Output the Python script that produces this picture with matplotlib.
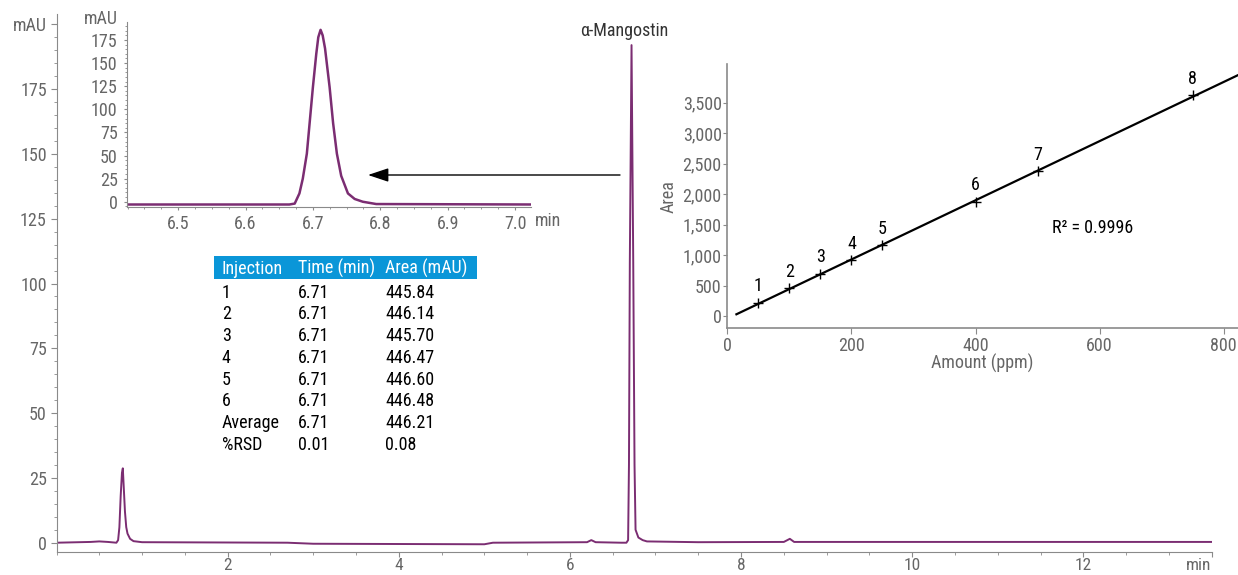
import numpy as np
import matplotlib
matplotlib.use("Agg")
import matplotlib.pyplot as plt
from matplotlib.patches import Rectangle
from matplotlib.ticker import MultipleLocator, FuncFormatter

plt.rcParams['font.family'] = ['Roboto Condensed', 'Fira Sans Condensed', 'Archivo Narrow',
                               'PT Sans Narrow', 'DejaVu Sans']

# full chromatogram (min, mAU)
main_t = [0.0, 0.4, 0.5, 0.6, 0.70, 0.72, 0.735, 0.75, 0.765, 0.775, 0.785, 0.80, 0.815, 0.83, 0.86, 0.9, 1.0,
          2.7, 3.0, 4.0, 5.0, 5.1, 6.2, 6.25, 6.3, 6.6, 6.66, 6.68, 6.69, 6.70, 6.72, 6.74, 6.755,
          6.767, 6.80, 6.85, 6.9, 7.5, 8.5, 8.57, 8.62, 10.0, 12.0, 13.5]
main_v = [0.0, 0.3, 0.5, 0.3, 0.0, 1.0, 6.0, 18.0, 27.0, 28.7, 22.0, 12.0, 6.0, 3.5, 1.5, 0.6, 0.2,
          0.0, -0.4, -0.5, -0.6, 0.0, 0.2, 1.0, 0.2, 0.0, 0.0, 1.0, 30.0, 108.0, 192.0, 108.0, 30.0,
          5.0, 2.0, 1.0, 0.5, 0.2, 0.3, 1.5, 0.3, 0.3, 0.3, 0.3]

# zoomed peak of alpha-mangostin
zoom_t = [6.42, 6.60, 6.665, 6.673, 6.680, 6.685, 6.691, 6.700, 6.705, 6.708, 6.7114, 6.7145, 6.718,
          6.7248, 6.730, 6.7356, 6.742, 6.752, 6.762, 6.774, 6.794, 7.03]
zoom_v = [-3.0, -3.0, -3.0, -2.0, 9.0, 25.0, 52.0, 124.0, 160.0, 178.0, 186.0, 180.0, 166.0,
          124.0, 85.0, 52.0, 28.0, 9.0, 3.0, 0.0, -2.5, -3.0]

# repeatability table
injections = ["1", "2", "3", "4", "5", "6", "Average", "%RSD"]
ret_times = ["6.71", "6.71", "6.71", "6.71", "6.71", "6.71", "6.71", "0.01"]
areas = ["445.84", "446.14", "445.70", "446.47", "446.60", "446.48", "446.21", "0.08"]

# calibration
amount = [50, 100, 150, 200, 250, 400, 500, 750]
area = [218, 452, 691, 914, 1159, 1878, 2373, 3620]
levels = ["1", "2", "3", "4", "5", "6", "7", "8"]

W, H = 1238, 575
def box(l, t, r, b):
    return [l / W, 1 - b / H, (r - l) / W, (b - t) / H]

grey = '#666666'
spine_c = '#8a8a8a'
trace_c = '#7b2d72'
fs = 13

fig = plt.figure(figsize=(12.38, 5.75), dpi=100)

# main chromatogram
ax = fig.add_axes(box(56.5, 14, 1211.7, 552.3))
ax.plot(main_t, main_v, color=trace_c, lw=1.4)
ax.set_xlim(0, 13.5)
ax.set_ylim(-3.7, 204)
ax.set_xticks([2, 4, 6, 8, 10, 12, 13.5])
ax.set_xticklabels(["2", "4", "6", "8", "10", "12", "min"])
ax.get_xticklabels()[-1].set_horizontalalignment('right')
ax.xaxis.set_minor_locator(MultipleLocator(0.5))
ax.set_yticks([0, 25, 50, 75, 100, 125, 150, 175, 200])
ax.set_yticklabels(["0", "25", "50", "75", "100", "125", "150", "175", "mAU"])
ax.yaxis.set_minor_locator(MultipleLocator(5))
for s in ['top', 'right']:
    ax.spines[s].set_visible(False)
for s in ['left', 'bottom']:
    ax.spines[s].set_color(spine_c)
ax.tick_params(which='major', length=4.5, color=spine_c, labelcolor=grey, labelsize=fs, pad=2.5)
ax.tick_params(axis='x', which='major', length=3.5, labelsize=12.5, pad=0.8)
ax.tick_params(which='minor', length=2.5, color=spine_c)
ax.text(6.64, 197.5, "α-Mangostin", ha='center', va='center', fontsize=fs, color='#333333')
ax.annotate("", xy=(368 / W, 1 - 175 / H), xytext=(620 / W, 1 - 175 / H),
            xycoords='figure fraction', textcoords='figure fraction',
            arrowprops=dict(arrowstyle='-|>,head_length=0.9,head_width=0.3', color='black',
                            lw=1.0, mutation_scale=14, shrinkA=0, shrinkB=0))

# zoomed inset
ai = fig.add_axes(box(126.7, 21.7, 530.7, 207))
ai.set_facecolor('none')
ai.plot(zoom_t, zoom_v, color=trace_c, lw=1.8)
ai.set_xlim(6.4236, 7.0233)
ai.set_ylim(-5.7, 194.8)
ai.set_xticks([6.5, 6.6, 6.7, 6.8, 6.9, 7.0])
ai.set_xticklabels(["6.5", "6.6", "6.7", "6.8", "6.9", "7.0"])
ai.xaxis.set_minor_locator(MultipleLocator(0.025))
ai.set_yticks([0, 25, 50, 75, 100, 125, 150, 175])
ai.yaxis.set_minor_locator(MultipleLocator(5))
for s in ['top', 'right']:
    ai.spines[s].set_visible(False)
for s in ['left', 'bottom']:
    ai.spines[s].set_color(spine_c)
ai.tick_params(which='major', length=2, color=spine_c, labelcolor=grey, labelsize=fs)
ai.tick_params(axis='y', which='major', pad=4.5)
ai.tick_params(axis='x', which='major', pad=4)
ai.tick_params(which='minor', length=1.2, color=spine_c)
fig.text(118 / W, 1 - 19.5 / H, "mAU", ha='right', va='center', fontsize=fs, color=grey)
fig.text(535 / W, 1 - 220.7 / H, "min", ha='left', va='center', fontsize=fs, color=grey)

# table
fig.patches.append(Rectangle((214 / W, 1 - 279.3 / H), 262.7 / W, 23.3 / H,
                             transform=fig.transFigure, facecolor='#0a96d8', edgecolor='none'))
cols = [221.7, 298.3, 385]
for x, h in zip(cols, ["Injection", "Time (min)", "Area (mAU)"]):
    fig.text(x / W, 1 - 268.5 / H, h, ha='left', va='center', fontsize=fs, color='white')
for i in range(len(injections)):
    y = 1 - (292.7 + i * 21.75) / H
    for x, txt in zip(cols, [injections[i], ret_times[i], areas[i]]):
        fig.text(x / W, y, txt, ha='left', va='center', fontsize=fs, color='black')

# calibration curve
ac = fig.add_axes(box(727.3, 64, 1238, 328.3))
ac.set_facecolor('none')
k, b0 = np.polyfit(amount, area, 1)
xl = np.array([14.7, 825])
ac.plot(xl, k * xl + b0, color='black', lw=1.6)
ac.plot(amount, area, '+', color='black', ms=7, mew=1)
for xa, ya, lab in zip(amount, area, levels):
    ac.annotate(lab, (xa, ya), xytext=(0, 12), textcoords='offset points',
                ha='center', va='center', fontsize=fs, color='black')
ac.text(523, 1439, "R² = 0.9996", fontsize=fs, color='black', va='center')
ac.set_xlim(0, 823)
ac.set_ylim(-202, 4135)
ac.set_xticks([0, 200, 400, 600, 800])
ac.set_yticks([0, 500, 1000, 1500, 2000, 2500, 3000, 3500])
ac.yaxis.set_major_formatter(FuncFormatter(lambda v, p: f"{int(v):,}"))
for s in ['top', 'right']:
    ac.spines[s].set_visible(False)
for s in ['left', 'bottom']:
    ac.spines[s].set_color(spine_c)
    ac.spines[s].set_linewidth(1.2)
ac.tick_params(axis='x', length=4, color=spine_c, labelcolor=grey, labelsize=fs, pad=2.5)
ac.tick_params(axis='y', length=3, color=spine_c, labelcolor=grey, labelsize=fs, pad=1)
ac.text(0.499, -0.132, "Amount (ppm)", transform=ac.transAxes, ha='center', va='center',
        fontsize=fs, color=grey)
ac.text(-0.115, 0.498, "Area", transform=ac.transAxes, ha='center', va='center',
        rotation=90, fontsize=fs, color=grey)

fig.savefig("out.png", dpi=100)
